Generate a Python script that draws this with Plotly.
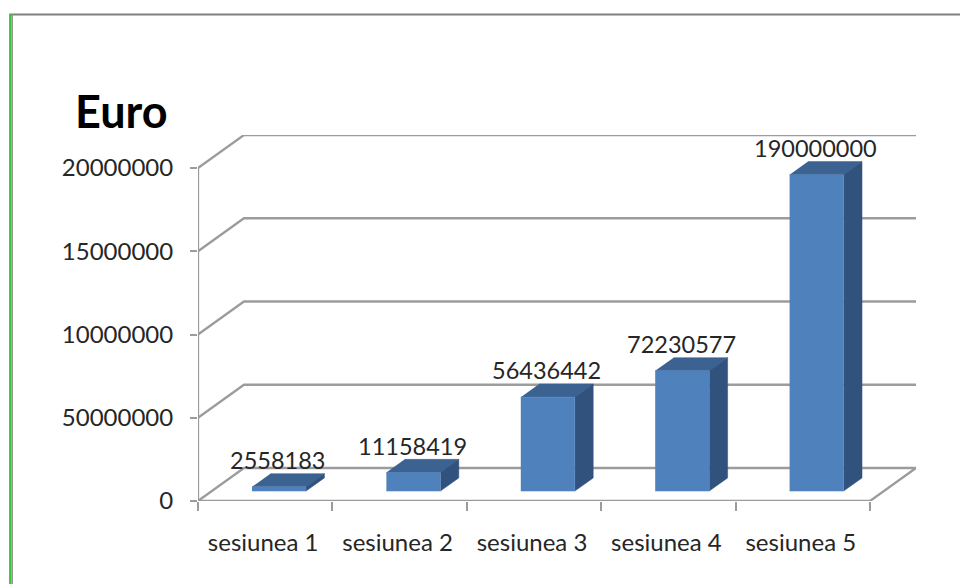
import plotly.graph_objects as go

categories = ["sesiunea 1", "sesiunea 2", "sesiunea 3", "sesiunea 4", "sesiunea 5"]
values = [2558183, 11158419, 56436442, 72230577, 190000000]
labels = ["2558183", "11158419", "56436442", "72230577", "190000000"]
y_ticks = [0, 50000000, 100000000, 150000000, 200000000]
y_tick_text = ["0", "50000000", "10000000", "15000000", "20000000"]

W, H = 960, 584
L, R, T, B = 198, 916, 135, 501          # plot box in pixels
DEPTH_X = 0.342                           # x shift of the back wall (category units)
DEPTH_Y = 19820000                        # y shift of the back wall (value units)
BAR_W = 0.402
D0, D1 = 0.3, 0.7
GRID = "#9c9c9c"
FRONT, TOP, SIDE = "#4f81bd", "#3b6291", "#30527c"
FONT = "Lato"
TXT = "#262626"
n = len(categories)


def proj(x, y, d):
    return x + d * DEPTH_X, y + d * DEPTH_Y


fig = go.Figure()


def poly(pts, fill=None, color=GRID, width=2.3):
    xs, ys = zip(*pts)
    if fill:
        fig.add_trace(go.Scatter(x=xs, y=ys, mode="lines", fill="toself", fillcolor=fill,
                                 line=dict(color=fill, width=0.5), hoverinfo="skip", showlegend=False))
    else:
        fig.add_trace(go.Scatter(x=xs, y=ys, mode="lines", line=dict(color=color, width=width),
                                 hoverinfo="skip", showlegend=False, cliponaxis=False))


# walls and floor
for v in y_ticks:
    poly([proj(0, v, 0), proj(0, v, 1), proj(n, v, 1)])
poly([proj(0, 0, 0), proj(0, y_ticks[-1], 0)])
poly([proj(0, 0, 0), proj(n, 0, 0), proj(n, 0, 1)])

# bars
for i, v in enumerate(values):
    a, b = i + 0.5 - BAR_W / 2, i + 0.5 + BAR_W / 2
    poly([proj(a, v, D0), proj(b, v, D0), proj(b, v, D1), proj(a, v, D1)], fill=TOP)
    poly([proj(b, 0, D0), proj(b, 0, D1), proj(b, v, D1), proj(b, v, D0)], fill=SIDE)
    poly([proj(a, 0, D0), proj(b, 0, D0), proj(b, v, D0), proj(a, v, D0)], fill=FRONT)
    cx, cy = proj(i + 0.5, v, D0)
    fig.add_annotation(x=cx, y=cy, xref="x", yref="y", text=labels[i], showarrow=False,
                       yshift=27, xshift=-1, font=dict(family=FONT, size=23.5, color=TXT))


def px(x):
    return (x - L) / (R - L)


def py(y):
    return (B - y) / (B - T)


fig.add_annotation(text="Euro", xref="paper", yref="paper", x=px(121), y=py(111),
                   xanchor="center", yanchor="middle", showarrow=False,
                   font=dict(family=FONT, size=45, color="#000000", weight="bold"))

fig.update_layout(
    width=W, height=H, margin=dict(l=L, r=W - R, t=T, b=H - B, pad=0),
    paper_bgcolor="#ffffff", plot_bgcolor="#ffffff", showlegend=False,
    xaxis=dict(range=[0, n + DEPTH_X], tickvals=[i + 0.485 for i in range(n)], ticktext=categories,
               ticks="", showgrid=False, zeroline=False, showline=False, ticklabelstandoff=25,
               tickfont=dict(family=FONT, size=24, color=TXT),
               minor=dict(tickvals=list(range(n + 1)), ticks="outside", ticklen=9, tickwidth=2.3,
                          tickcolor=GRID, showgrid=False)),
    yaxis=dict(range=[0, y_ticks[-1] + DEPTH_Y], tickvals=y_ticks, ticktext=y_tick_text,
               ticks="outside", ticklen=7, tickwidth=2.3, tickcolor=GRID, showgrid=False,
               zeroline=False, showline=False, ticklabelstandoff=12,
               tickfont=dict(family=FONT, size=24, color=TXT)),
    shapes=[
        dict(type="line", xref="paper", yref="paper", x0=px(11), x1=px(960), y0=py(14.5), y1=py(14.5),
             line=dict(color="#808080", width=2)),
        dict(type="line", xref="paper", yref="paper", x0=px(12.2), x1=px(12.2), y0=py(14), y1=py(584),
             line=dict(color="#8f8f8f", width=1.5)),
        dict(type="line", xref="paper", yref="paper", x0=px(10.2), x1=px(10.2), y0=py(13.5), y1=py(584),
             line=dict(color="#35c435", width=2.2)),
    ],
)
fig.write_html("out.html", config={"displayModeBar": False},
               post_script="document.body.style.margin='0';document.body.style.overflow='hidden';")
